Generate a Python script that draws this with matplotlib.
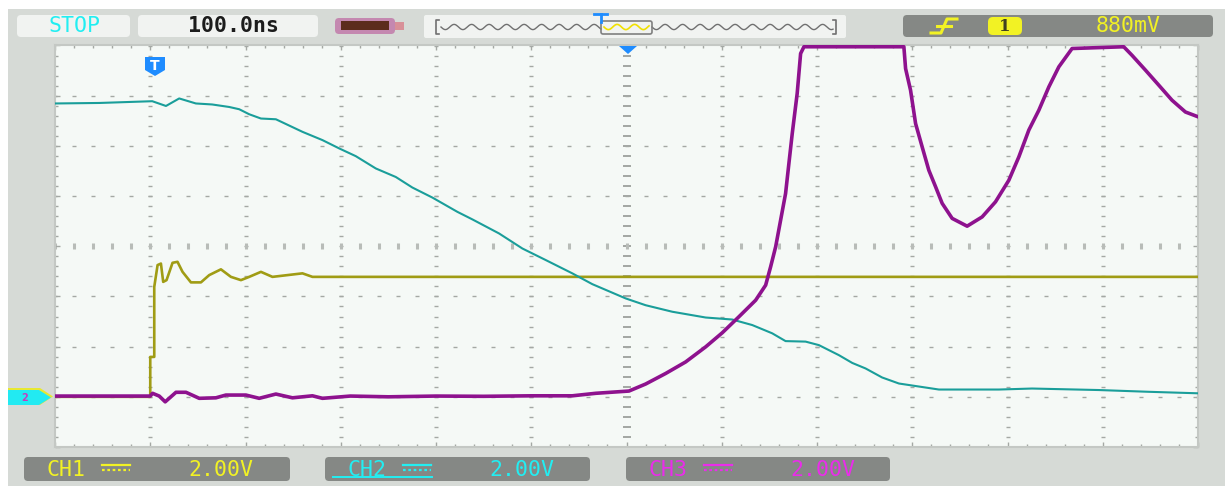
import numpy as np
import matplotlib
matplotlib.use("Agg")
import matplotlib.pyplot as plt
from matplotlib.patches import FancyBboxPatch, Polygon, Rectangle

# ---------------- waveform data (time in ns, level in volts) ----------------
ch1_t = [-600, -500, -500, -495.8, -495.8, -492.3, -488.8, -486.4, -482.9, -476.6,
         -471.4, -466.1, -457.3, -446.8, -438.1, -425.8, -415.3, -404.8, -396.1,
         -383.8, -371.7, -340.2, -329.7, 600]
ch1_v = [0.0, 0.0, 1.59, 1.59, 4.38, 5.25, 5.31, 4.58, 4.65, 5.34,
         5.38, 4.98, 4.56, 4.56, 4.85, 5.08, 4.78, 4.65, 4.78,
         4.98, 4.78, 4.92, 4.78, 4.78]

ch2_t = [-600, -553.5, -497.9, -483.5, -469.6, -452.1, -435.0, -417.1, -406.6, -396.1,
         -383.8, -368.1, -340.2, -319.2, -301.7, -284.2, -263.2, -242.2, -224.8, -203.8,
         -177.5, -161.8, -133.8, -109.3, -84.8, -56.9, -35.9, -0.8, 20.1, 48.1,
         83.1, 111.0, 132.0, 153.0, 167.0, 188.0, 202.0, 223.0, 237.0, 251.0,
         268.4, 286.0, 303.5, 328.0, 391.0, 425.8, 495.8, 548.3, 600]
ch2_v = [11.69, 11.71, 11.78, 11.59, 11.89, 11.69, 11.65, 11.55, 11.46, 11.26,
         11.09, 11.06, 10.56, 10.23, 9.90, 9.59, 9.10, 8.76, 8.34, 7.94,
         7.37, 7.07, 6.51, 5.91, 5.45, 4.92, 4.49, 3.92, 3.65, 3.39,
         3.16, 3.08, 2.86, 2.53, 2.22, 2.20, 2.06, 1.66, 1.35, 1.13,
         0.77, 0.53, 0.43, 0.29, 0.29, 0.33, 0.27, 0.20, 0.14]

ch3_t = [-600, -500, -497.6, -490.6, -484.3, -473.0, -462.5, -448.6, -431.1, -420.6,
         -399.6, -385.6, -368.1, -350.7, -329.7, -319.2, -290, -250, -200, -150,
         -100, -56.9, -32.3, 2.6, 20.1, 41.1, 62.1, 83.1, 100.5, 118.0,
         135.6, 146.1, 151.3, 156.6, 161.8, 167.0, 170.5, 174.0, 179.2, 182.8,
         186.3, 291.2, 293.0, 298.2, 303.5, 310.4, 317.4, 324.5, 331.4, 341.9,
         357.6, 373.4, 387.4, 401.4, 411.9, 422.4, 432.9, 443.4, 453.9, 467.8,
         522.0, 530.7, 544.8, 558.8, 572.7, 586.8, 600]
ch3_v = [0.03, 0.03, 0.14, 0.03, -0.20, 0.18, 0.18, -0.06, -0.04, 0.07,
         0.07, -0.06, 0.11, -0.04, 0.04, -0.06, 0.03, 0.00, 0.03, 0.02,
         0.04, 0.04, 0.14, 0.23, 0.51, 0.93, 1.39, 1.99, 2.55, 3.19,
         3.85, 4.45, 5.18, 5.98, 7.04, 8.10, 9.30, 10.49, 12.09, 13.68,
         13.95, 13.95, 13.08, 12.22, 10.89, 9.96, 9.03, 8.37, 7.71, 7.11,
         6.80, 7.17, 7.77, 8.63, 9.56, 10.63, 11.42, 12.35, 13.15, 13.88,
         13.95, 13.61, 13.02, 12.42, 11.82, 11.35, 11.16]

# ---------------- status texts ----------------
run_state = "STOP"
timebase = "100.0ns"
trig_source = "1"
trig_level = "880mV"
channel_names = ["CH1", "CH2", "CH3"]
channel_scales = ["2.00V", "2.00V", "2.00V"]

# ---------------- colours ----------------
BG = "#d6dad6"
SCREEN = "#f5f9f6"
PANEL = "#858885"
LIGHT_BOX = "#f1f3f1"
GRID = "#a4a8a4"
C_YEL_TR = "#a09c14"
C_TEAL = "#1a9e9a"
C_PURP = "#8e128e"
T_YEL = "#f2f224"
T_CYAN = "#22eef2"
T_MAG = "#ea2cea"
BLUE = "#1e8cff"
ch_text_cols = [T_YEL, T_CYAN, T_MAG]

W, H = 1225, 486
fig = plt.figure(figsize=(W / 100, H / 100), dpi=100)
fig.patch.set_facecolor("white")

# ---------------- frame / status bars (pixel coordinates) ----------------
bg = fig.add_axes([0, 0, 1, 1])
bg.set_xlim(0, W)
bg.set_ylim(H, 0)
bg.axis("off")
bg.add_patch(Rectangle((8, 9), W - 8, H - 9, facecolor=BG, edgecolor="none"))


def rbox(ax, x0, y0, x1, y1, fc, ec="none", r=4, lw=1.0, z=1):
    ax.add_patch(FancyBboxPatch((x0, y0), x1 - x0, y1 - y0,
                                boxstyle=f"round,pad=0,rounding_size={r}",
                                facecolor=fc, edgecolor=ec, linewidth=lw, zorder=z))


mono = "DejaVu Sans Mono"
FS = 15.5

# run state and timebase
rbox(bg, 17, 15, 130, 37, LIGHT_BOX)
bg.text(74, 26.5, run_state, color=T_CYAN, fontsize=FS, family=mono,
        ha="center", va="center", zorder=3)
rbox(bg, 138, 15, 318, 37, LIGHT_BOX)
bg.text(233, 26.5, timebase, color="#1c1c1c", fontsize=FS, family=mono,
        fontweight="bold", ha="center", va="center", zorder=3)

# battery icon
rbox(bg, 335, 18, 395, 34, "#c488b0", r=4)
bg.add_patch(Rectangle((341, 21.5), 48, 9, facecolor="#5c2c1c", edgecolor="none", zorder=2))
bg.add_patch(Rectangle((395, 22), 9, 8, facecolor="#d89098", edgecolor="none", zorder=2))

# memory/timeline strip
rbox(bg, 424, 15, 846, 38, LIGHT_BOX, r=2)
wx = np.linspace(441, 601, 200)
bg.plot(wx, 27 + 2.6 * np.sin((wx - 441) * 2 * np.pi / 17.5), color="#707070", lw=1.0, zorder=3)
wx2 = np.linspace(652, 833, 220)
bg.plot(wx2, 27 + 2.6 * np.sin((wx2 - 652) * 2 * np.pi / 17.5), color="#707070", lw=1.0, zorder=3)
wx3 = np.linspace(604, 649, 80)
bg.plot(wx3, 27 + 2.6 * np.sin((wx3 - 604) * 2 * np.pi / 17.5), color="#f0e000", lw=1.2, zorder=3)
rbox(bg, 601, 21, 652, 34, "none", ec="#808080", r=2, lw=1.2, z=4)
bg.plot([439, 436, 436, 439], [20, 20, 34, 34], color="#707070", lw=1.2, zorder=3)
bg.plot([833, 836, 836, 833], [20, 20, 34, 34], color="#707070", lw=1.2, zorder=3)
bg.plot([594, 607], [14, 14], color=BLUE, lw=2, zorder=4)
bg.plot([600.5, 600.5], [14, 22], color=BLUE, lw=2, zorder=4)

# trigger panel
rbox(bg, 903, 15, 1213, 37, PANEL, r=4)
bg.plot([931, 941, 947, 957], [33, 33, 19, 19], color=T_YEL, lw=2.2, zorder=3)
bg.plot([937, 951], [26, 26], color=T_YEL, lw=2.2, zorder=3)
rbox(bg, 988, 17, 1022, 35, T_YEL, r=5, z=2)
bg.text(1005, 26.5, trig_source, color="#404020", fontsize=12, family="DejaVu Serif",
        fontweight="bold", ha="center", va="center", zorder=3)
bg.text(1128, 26.5, trig_level, color=T_YEL, fontsize=FS, family=mono,
        ha="center", va="center", zorder=3)

# channel scale panels
panels = [(24, 290), (325, 590), (626, 890)]
for (x0, x1), name, scale, col in zip(panels, channel_names, channel_scales, ch_text_cols):
    rbox(bg, x0, 457, x1, 481, PANEL, r=4)
    bg.text(x0 + 42, 469.5, name, color=col, fontsize=FS, family=mono,
            ha="center", va="center", zorder=3)
    sx = x0 + 78
    bg.plot([sx, sx + 28], [465, 465], color=col, lw=1.6, zorder=3)
    bg.plot([sx, sx + 28], [470, 470], color=col, lw=1.6, ls=(0, (1.2, 1.2)), zorder=3)
    bg.text(x0 + 197, 469.5, scale, color=col, fontsize=FS, family=mono,
            ha="center", va="center", zorder=3)
# selected channel underline
bg.plot([333, 432], [476.5, 476.5], color=T_CYAN, lw=1.4, zorder=3)

# ---------------- screen ----------------
L, R, T, B = 55, 1198, 45.5, 447
ax = fig.add_axes([L / W, (H - B) / H, (R - L) / W, (B - T) / H])
ax.set_facecolor(SCREEN)
ax.set_xlim(-600, 600)
ax.set_ylim(-2, 14)
for s in ax.spines.values():
    s.set_color("#c4c8c4")
    s.set_linewidth(1.5)
ax.set_xticks(np.arange(-600, 601, 100))
ax.set_xticks(np.arange(-600, 601, 20), minor=True)
ax.set_yticks(np.arange(-2, 14.01, 2))
ax.set_yticks(np.arange(-2, 14.01, 0.4), minor=True)
ax.tick_params(which="both", direction="in", top=True, right=True,
               labelbottom=False, labelleft=False, color=GRID)
ax.tick_params(which="major", length=3.5, width=1)
ax.tick_params(which="minor", length=2.2, width=1)

# dotted graticule
vsteps = np.arange(-2, 14.01, 0.4)
tsteps = np.arange(-600, 601, 20)
for t in range(-500, 501, 100):
    if t == 0:
        ax.plot(np.zeros_like(vsteps), vsteps, ls="none", marker="_", ms=6,
                mew=1.3, color="#9ca09c", zorder=1)
    else:
        ax.plot(np.full_like(vsteps, t), vsteps, ls="none", marker="_", ms=2.4,
                mew=1.0, color=GRID, zorder=1)
for v in range(0, 13, 2):
    if v == 6:
        ax.plot(tsteps, np.full_like(tsteps, 6.0, dtype=float), ls="none", marker="|",
                ms=4, mew=2.2, color="#b8bcb8", zorder=1)
    else:
        ax.plot(tsteps, np.full_like(tsteps, v, dtype=float), ls="none", marker="_",
                ms=2.4, mew=1.0, color=GRID, zorder=1)

# traces
ax.plot(ch1_t, ch1_v, color=C_YEL_TR, lw=1.9, zorder=3)
ax.plot(ch2_t, ch2_v, color=C_TEAL, lw=1.5, zorder=4)
ax.plot(ch3_t, ch3_v, color=C_PURP, lw=2.6, zorder=5)

# ---------------- markers over the screen ----------------
ov = fig.add_axes([0, 0, 1, 1])
ov.set_xlim(0, W)
ov.set_ylim(H, 0)
ov.axis("off")
ov.patch.set_alpha(0)
# trigger position flag
ov.add_patch(Polygon([(145, 57), (165, 57), (165, 70), (155, 76), (145, 70)],
                     closed=True, facecolor=BLUE, edgecolor="none", zorder=5))
ov.text(155, 65.5, "T", color="white", fontsize=10, fontweight="bold",
        ha="center", va="center", zorder=6)
# horizontal position pointer
ov.add_patch(Polygon([(619, 46), (637, 46), (628, 54)], closed=True,
                     facecolor=BLUE, edgecolor="none", zorder=5))
# channel ground reference marker
ov.add_patch(Polygon([(8, 388), (40, 388), (53, 396.5), (40, 405), (8, 405)],
                     closed=True, facecolor="#e8e830", edgecolor="none", zorder=5))
ov.add_patch(Polygon([(8, 390), (39, 390), (51, 397.5), (39, 405), (8, 405)],
                     closed=True, facecolor="#22eaf2", edgecolor="none", zorder=6))
ov.text(25, 397.5, "2", color="#c040c0", fontsize=7, fontweight="bold",
        ha="center", va="center", zorder=7)

fig.savefig("out.png", dpi=100, facecolor=fig.get_facecolor())
